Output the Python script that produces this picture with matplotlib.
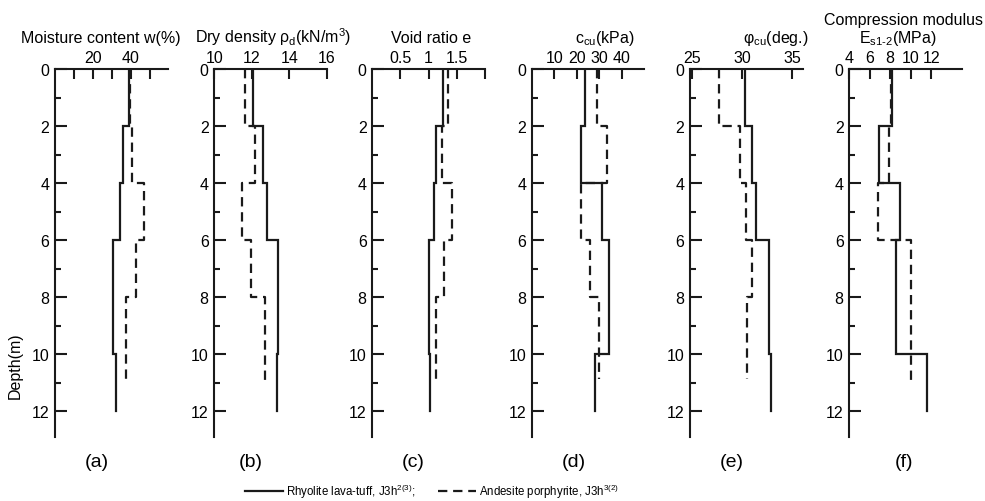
import matplotlib
matplotlib.use('Agg')
import matplotlib.pyplot as plt
from matplotlib.lines import Line2D

plt.rcParams['font.family'] = ['Liberation Sans', 'DejaVu Sans']
plt.rcParams['mathtext.default'] = 'regular'

# ---------------- data ----------------
solid_bounds = [0, 2, 4, 6, 10, 12]
dash_bounds = [0, 2, 4, 6, 8, 11]
dash_bounds_short = [0, 2, 4, 6, 8, 10.85]

moisture_solid = [39.0, 35.8, 34.5, 30.5, 32.4]
moisture_dash = [39.5, 40.9, 47.0, 42.6, 37.7]
density_solid = [12.05, 12.6, 12.82, 13.4, 13.32]
density_dash = [11.63, 12.16, 11.5, 11.94, 12.7]
void_solid = [1.25, 1.14, 1.10, 1.00, 1.02]
void_dash = [1.34, 1.23, 1.41, 1.28, 1.13]
ccu_solid = [23.6, 21.7, 31.4, 34.3, 28.0]
ccu_dash = [29.2, 33.6, 21.7, 26.1, 29.9]
phi_solid = [30.3, 31.0, 31.4, 32.7, 32.9]
phi_dash = [27.7, 29.8, 30.4, 31.0, 30.5]
es_solid = [8.17, 6.88, 8.92, 8.6, 11.6]
es_dash = [8.05, 7.88, 6.76, 10.0, 10.0]

titles = ["Moisture content w(%)",
          "Dry density \u03c1$_d$(kN/m$^3$)",
          "Void ratio e",
          "c$_{cu}$(kPa)",
          "\u03c6$_{cu}$(deg.)",
          "E$_{s1\u20102}$(MPa)"]
title2_f = "Compression modulus"
panel_labels = ["(a)", "(b)", "(c)", "(d)", "(e)", "(f)"]
xlims = [(0, 59.5), (10, 16), (0, 2), (0, 50), (24.77, 36.07), (4, 15)]
xticks = [[10, 20, 30, 40, 50], [10, 12, 14, 16], [0.5, 1, 1.5, 2],
          [10, 20, 30, 40], [25, 30, 35], [4, 6, 8, 10, 12]]
xticklabels = [["", "20", "", "40", ""], ["10", "12", "14", "16"],
               ["0.5", "1", "1.5", ""], ["10", "20", "30", "40"],
               ["25", "30", "35"], ["4", "6", "8", "10", "12"]]
depth_major = [0, 2, 4, 6, 8, 10, 12]
depth_minor = [1, 3, 5, 7, 9, 11]
legend_labels = ["Rhyolite lava-tuff, J3h$^{2(3)}$;",
                 "Andesite porphyrite, J3h$^{3(2)}$"]

series = [(moisture_solid, moisture_dash, dash_bounds),
          (density_solid, density_dash, dash_bounds),
          (void_solid, void_dash, dash_bounds),
          (ccu_solid, ccu_dash, dash_bounds_short),
          (phi_solid, phi_dash, dash_bounds_short),
          (es_solid, es_dash, dash_bounds)]


def profile(bounds, vals):
    xs, ys = [], []
    for i, v in enumerate(vals):
        xs += [v, v]
        ys += [bounds[i], bounds[i + 1]]
    return xs, ys


W, H = 985, 502
fig = plt.figure(figsize=(W / 100, H / 100), dpi=100)
lefts_px = [55, 214.3, 372.3, 531.7, 690, 849.3]
ax_w = 112.6 / W
top_px, bot_px = 70, 438
ax_b = 1 - bot_px / H
ax_h = (bot_px - top_px) / H

title_x = [0.41, 0.52, 0.52, 0.65, 0.76, 0.43]
label_x = [0.37, 0.32, 0.36, 0.37, 0.37, 0.49]
LW = 1.6
DASH = (4.2, 2.6)

for i in range(6):
    ax = fig.add_axes([lefts_px[i] / W, ax_b, ax_w, ax_h])
    s, d, db = series[i]
    xs, ys = profile(solid_bounds, s)
    ax.plot(xs, ys, color='#1a1a1a', lw=LW, solid_joinstyle='miter')
    xs, ys = profile(db, d)
    ax.plot(xs, ys, color='#1a1a1a', lw=LW, ls=(0, DASH))
    ax.set_xlim(*xlims[i])
    ax.set_ylim(12.9, 0)
    for sp in ['right', 'bottom']:
        ax.spines[sp].set_visible(False)
    for sp in ['left', 'top']:
        ax.spines[sp].set_linewidth(1.5)
        ax.spines[sp].set_color('#1a1a1a')
    ax.xaxis.tick_top()
    ax.set_xticks(xticks[i])
    ax.set_xticklabels(xticklabels[i])
    ax.set_yticks(depth_major)
    ax.set_yticks(depth_minor, minor=True)
    ax.tick_params(axis='x', which='major', direction='in', length=7, width=1.5,
                   pad=3, labelsize=11.5, color='#1a1a1a')
    ax.tick_params(axis='y', which='major', direction='in', length=8.5, width=1.5,
                   pad=4, labelsize=11.5, color='#1a1a1a')
    ax.tick_params(axis='y', which='minor', direction='in', length=4.3, width=1.5,
                   color='#1a1a1a')
    ax.set_facecolor('none')
    ax.text(title_x[i], 1.073, titles[i], transform=ax.transAxes,
            ha='center', va='baseline', fontsize=11.5)
    if i == 5:
        ax.text(0.48, 1.122, title2_f, transform=ax.transAxes,
                ha='center', va='baseline', fontsize=11.5)
    ax.text(label_x[i], -0.066, panel_labels[i], transform=ax.transAxes,
            ha='center', va='center', fontsize=14)
    if i == 0:
        ax.text(-0.354, 0.196, "Depth(m)", transform=ax.transAxes, rotation=90,
                ha='center', va='center', fontsize=11.5)

handles = [Line2D([], [], color='#1a1a1a', lw=LW),
           Line2D([], [], color='#1a1a1a', lw=LW, ls=(0, DASH))]
fig.legend(handles, legend_labels, loc='center', bbox_to_anchor=(432 / W, 1 - 492 / H),
           ncol=2, frameon=False, handlelength=3.3, handletextpad=0.25,
           columnspacing=2.0, borderpad=0, borderaxespad=0,
           prop={'size': 8.3})

fig.savefig('out.png', dpi=100)
